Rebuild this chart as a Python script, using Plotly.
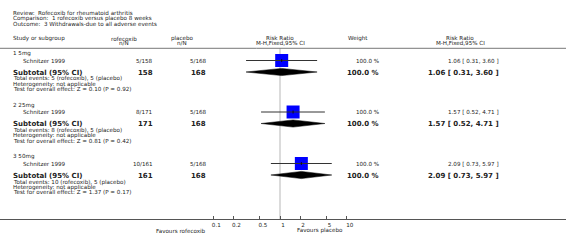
import math
import plotly.graph_objects as go

# ---------------- data ----------------
review = "Review:  Rofecoxib for rheumatoid arthritis"
comparison = "Comparison:  1 rofecoxib versus placebo 8 weeks"
outcome = "Outcome:  3 Withdrawals-due to all adverse events"

groups = ["1 5mg", "2 25mg", "3 50mg"]
studies = ["Schnitzer 1999", "Schnitzer 1999", "Schnitzer 1999"]
rof_events = [5, 8, 10]
rof_n = [158, 171, 161]
pla_events = [5, 5, 5]
pla_n = [168, 168, 168]
rr = [1.06, 1.57, 2.09]
rr_lo = [0.31, 0.52, 0.73]
rr_hi = [3.60, 4.71, 5.97]
weights = [100.0, 100.0, 100.0]
z_vals = [0.10, 0.81, 1.37]
p_vals = [0.92, 0.42, 0.17]
tick_vals = [0.1, 0.2, 0.5, 1, 2, 5, 10]
tick_text = ["0.1", "0.2", "0.5", "1", "2", "5", "10"]

# ---------------- layout constants (pixels) ----------------
W, H = 566, 249
AXIS_Y = 219
X1 = 280.0          # pixel of RR = 1
PX_PER_DEC = 66.7
FONT = "DejaVu Sans"
TXT = "#222222"
SMALL = 5.6
BOLD = 7.0

def px(x):
    return x / W

def py(y):
    return 1 - y / H

annotations = []

def text(x, y, s, size=SMALL, anchor="left", bold=False, color=TXT):
    annotations.append(dict(
        x=px(x), y=py(y), xref="paper", yref="paper",
        text=("<b>%s</b>" % s) if bold else s,
        showarrow=False, xanchor=anchor, yanchor="middle",
        font=dict(family=FONT, size=size, color=color),
        borderpad=0, borderwidth=0,
    ))

# header
text(13, 13, review)
text(13, 18.5, comparison)
text(13, 24, outcome)
text(13, 38.5, "Study or subgroup")
text(124, 38.5, "rofecoxib", anchor="center")
text(124, 43.5, "n/N", anchor="center")
text(182, 38.5, "placebo", anchor="center")
text(182, 43.5, "n/N", anchor="center")
text(X1, 38, "Risk Ratio", anchor="center")
text(X1, 43.5, "M-H,Fixed,95% CI", anchor="center")
text(358, 38, "Weight", anchor="center")
text(460, 38, "Risk Ratio", anchor="center")
text(460, 43.5, "M-H,Fixed,95% CI", anchor="center")

fig = go.Figure()

study_y = []
sub_y = []
for i, g in enumerate(groups):
    base = 53.5 + 51.5 * i
    ys = base + 7
    yt = base + 19
    study_y.append(ys)
    sub_y.append(yt)
    text(13, base, g)
    text(23, ys, studies[i])
    text(153, ys, "%d/%d" % (rof_events[i], rof_n[i]), anchor="right")
    text(207, ys, "%d/%d" % (pla_events[i], pla_n[i]), anchor="right")
    text(379, ys, "%.1f %%" % weights[i], anchor="right")
    text(499, ys, "%.2f [ %.2f, %.2f ]" % (rr[i], rr_lo[i], rr_hi[i]), anchor="right")

    text(13, yt, "Subtotal (95% CI)", size=BOLD, bold=True)
    text(153, yt, "%d" % rof_n[i], size=BOLD, anchor="right", bold=True)
    text(206, yt, "%d" % pla_n[i], size=BOLD, anchor="right", bold=True)
    text(379, yt, "%.1f %%" % weights[i], size=BOLD, anchor="right", bold=True)
    text(499, yt, "%.2f [ %.2f, %.2f ]" % (rr[i], rr_lo[i], rr_hi[i]), size=BOLD, anchor="right", bold=True)
    text(13, yt + 6.5, "Total events: %d (rofecoxib), %d (placebo)" % (rof_events[i], pla_events[i]))
    text(13, yt + 11.5, "Heterogeneity: not applicable")
    text(13, yt + 16.5, "Test for overall effect: Z = %.2f (P = %.2f)" % (z_vals[i], p_vals[i]))

text(181, 230.5, "Favours rofecoxib", anchor="center")
text(320, 230.5, "Favours placebo", anchor="center")

# null line
fig.add_trace(go.Scatter(x=[1, 1], y=[48, AXIS_Y], mode="lines",
                         line=dict(color="#cfcfcf", width=1.5), hoverinfo="skip"))

# diamonds
for i in range(len(groups)):
    yc = sub_y[i] - 0.5
    fig.add_trace(go.Scatter(
        x=[rr_lo[i], rr[i], rr_hi[i], rr[i], rr_lo[i]],
        y=[yc, yc - 3.6, yc, yc + 3.6, yc],
        mode="lines", fill="toself", fillcolor="black",
        line=dict(color="black", width=0.5), hoverinfo="skip"))

# squares
fig.add_trace(go.Scatter(x=rr, y=study_y, mode="markers",
                         marker=dict(symbol="square", size=13, color="#0000ff",
                                     line=dict(width=0)), hoverinfo="skip"))
# CI lines
for i in range(len(groups)):
    fig.add_trace(go.Scatter(x=[rr_lo[i], rr_hi[i]], y=[study_y[i], study_y[i]],
                             mode="lines", line=dict(color="#333333", width=1),
                             hoverinfo="skip"))
    fig.add_trace(go.Scatter(x=[rr[i], rr[i]], y=[study_y[i] - 1.5, study_y[i] + 1.5],
                             mode="lines", line=dict(color="#111111", width=1),
                             hoverinfo="skip"))

left = -X1 / PX_PER_DEC
right = (W - X1) / PX_PER_DEC

fig.update_layout(
    width=W, height=H,
    margin=dict(l=0, r=0, t=0, b=0),
    paper_bgcolor="white", plot_bgcolor="white",
    showlegend=False,
    annotations=annotations,
    shapes=[dict(type="line", xref="paper", yref="paper", x0=0, x1=1,
                 y0=py(48.3), y1=py(48.3), line=dict(color="#777777", width=1))],
    xaxis=dict(type="log", range=[left, right], showgrid=False, zeroline=False,
               showline=True, linecolor="#555555", linewidth=1,
               tickvals=tick_vals, ticktext=tick_text, ticks="inside",
               ticklen=3, tickcolor="#555555", ticklabelshift=3,
               tickfont=dict(family=FONT, size=SMALL, color=TXT),
               fixedrange=True),
    yaxis=dict(range=[AXIS_Y, 0], domain=[(H - AXIS_Y) / H, 1], visible=False,
               fixedrange=True),
)

fig.write_html("out.html", config={"displayModeBar": False},
               post_script="document.body.style.margin='0';")
